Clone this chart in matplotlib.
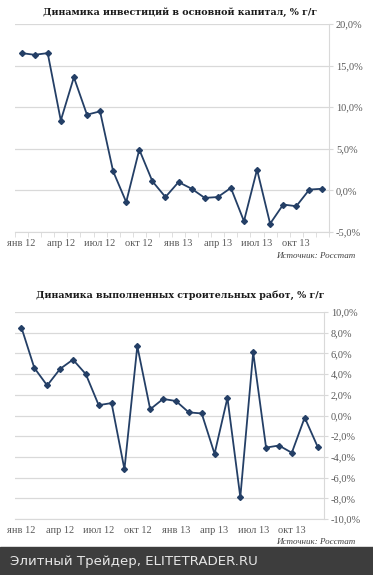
import numpy as np
import matplotlib
matplotlib.use('Agg')
import matplotlib.pyplot as plt
from matplotlib.ticker import FuncFormatter, FixedLocator

months = ['янв 12', 'фев 12', 'мар 12', 'апр 12', 'май 12', 'июн 12',
          'июл 12', 'авг 12', 'сен 12', 'окт 12', 'ноя 12', 'дек 12',
          'янв 13', 'фев 13', 'мар 13', 'апр 13', 'май 13', 'июн 13',
          'июл 13', 'авг 13', 'сен 13', 'окт 13', 'ноя 13', 'дек 13']

# инвестиции в основной капитал, % г/г
invest = [16.5, 16.3, 16.5, 8.4, 13.6, 9.1, 9.5, 2.3, -1.4, 4.9, 1.1, -0.8,
          1.0, 0.2, -0.9, -0.8, 0.3, -3.7, 2.5, -4.0, -1.7, -1.9, 0.1, 0.2]

# строительные работы, % г/г
constr = [8.5, 4.6, 2.9, 4.5, 5.4, 4.0, 1.0, 1.2, -5.2, 6.7, 0.6, 1.6,
          1.4, 0.3, 0.2, -3.7, 1.7, -7.9, 6.1, -3.1, -2.9, -3.6, -0.2, -3.0]

title1 = 'Динамика инвестиций в основной капитал, % г/г'
title2 = 'Динамика выполненных строительных работ, % г/г'
source = 'Источник: Росстат'
footer = 'Элитный Трейдер, ELITETRADER.RU'

LINE = '#243f66'
GRID = '#d9d9d9'
TXT = '#595959'
SERIF = 'Liberation Serif'

W, H = 373, 575
fig = plt.figure(figsize=(W / 100, H / 100), dpi=100)


def pct(v, pos):
    return ('%.1f%%' % v).replace('.', ',')


def draw(rect, vals, ylim, ystep, title, title_y, src_y, xticks=True):
    ax = fig.add_axes(rect)
    x = np.arange(len(vals))
    ax.plot(x, vals, color=LINE, lw=1.3, marker='D', ms=3.0, zorder=3)
    ax.set_xlim(-0.5, len(vals) - 0.5)
    ax.set_ylim(*ylim)
    ax.set_yticks(np.arange(ylim[0], ylim[1] + 0.01, ystep))
    ax.yaxis.set_major_formatter(FuncFormatter(pct))
    ax.yaxis.tick_right()
    ax.grid(axis='y', color=GRID, lw=0.9)
    ax.set_axisbelow(True)
    for s in ['top', 'left']:
        ax.spines[s].set_visible(False)
    ax.spines['right'].set_color(GRID)
    ax.spines['bottom'].set_color(GRID)
    ax.tick_params(axis='y', length=3, color=GRID, labelcolor=TXT,
                   labelsize=7.5, pad=2)
    ax.set_xticks(x[::3])
    ax.set_xticklabels(months[::3])
    ax.tick_params(axis='x', length=0, labelcolor=TXT, labelsize=7.5, pad=5)
    if xticks:
        ax.xaxis.set_minor_locator(FixedLocator(np.arange(-0.5, len(vals), 1)))
        ax.tick_params(axis='x', which='minor', length=3.5, color=GRID)
    for lab in ax.get_xticklabels() + ax.get_yticklabels():
        lab.set_family(SERIF)
    fig.text(180 / W, 1 - title_y / H, title, ha='center', va='center',
             family='DejaVu Serif', weight='heavy', fontsize=6.8, color='#1a1a1a')
    fig.text(355 / W, 1 - src_y / H, source, ha='right', va='center',
             family=SERIF, style='italic', fontsize=6.5, color='#404040')
    return ax


draw([15 / W, 1 - 232 / H, 314 / W, 208 / H], invest, (-5, 20), 5,
     title1, 12, 256)
draw([15 / W, 1 - 519 / H, 309 / W, 207 / H], constr, (-10, 10), 2,
     title2, 295, 542, xticks=False)

fig.patches.append(plt.Rectangle((0, 0), 1, 28 / H, transform=fig.transFigure,
                                 color='#3d3d3d', zorder=0))
fig.text(10 / W, 14 / H, footer, ha='left', va='center', color='#e6e6e6',
         family='DejaVu Sans', fontsize=9.6)

fig.savefig('out.png', dpi=100)
